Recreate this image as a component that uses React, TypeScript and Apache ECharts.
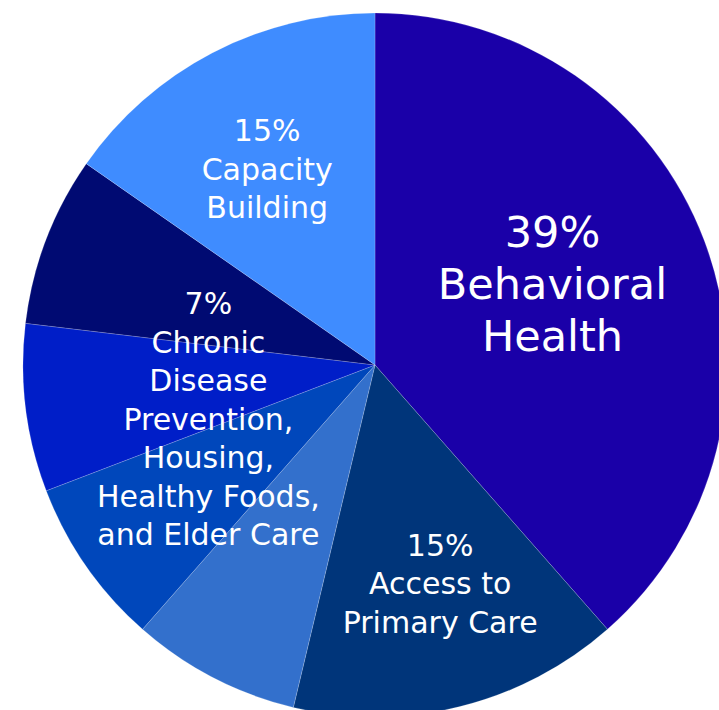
import React, { useEffect, useRef } from "react";
import * as echarts from "echarts";

const categories = [
  "Behavioral Health",
  "Access to Primary Care",
  "Elder Care",
  "Healthy Foods",
  "Housing",
  "Chronic Disease Prevention",
  "Capacity Building",
];
const values = [38.5, 15.2, 7.75, 7.7, 7.7, 7.8, 15.3];
const labelTexts = [
  "39%\nBehavioral\nHealth",
  "15%\nAccess to\nPrimary Care",
  "",
  "",
  "7%\nChronic\nDisease\nPrevention,\nHousing,\nHealthy Foods,\nand Elder Care",
  "",
  "15%\nCapacity\nBuilding",
];
const colors = ["#1a00a8", "#00357a", "#3370cc", "#0047bb", "#001ec8", "#000a72", "#3f8cff"];
const labelOffsets = [
  [10, -18],
  [22, 45],
  [0, 0],
  [0, 0],
  [11, 32],
  [0, 0],
  [-25, -37],
];

export default function App() {
  const ref = useRef<HTMLDivElement>(null);
  useEffect(() => {
    if (!ref.current) return;
    const chart = echarts.init(ref.current, null, { renderer: "svg" });
    chart.setOption({
      animation: false,
      series: [
        {
          type: "pie",
          center: [375, 365],
          radius: 352,
          startAngle: 90,
          clockwise: true,
          avoidLabelOverlap: false,
          itemStyle: { borderColor: "rgba(255,255,255,0.3)", borderWidth: 0.6 },
          labelLine: { show: false },
          emphasis: { disabled: true },
          labelLayout: (params: any) => ({
            dx: labelOffsets[params.dataIndex][0],
            dy: labelOffsets[params.dataIndex][1],
          }),
          data: categories.map((name, i) => ({
            name,
            value: values[i],
            itemStyle: { color: colors[i] },
            label: {
              show: labelTexts[i] !== "",
              position: "inside",
              formatter: labelTexts[i],
              color: "#ffffff",
              fontFamily: "DejaVu Sans",
              fontWeight: "normal",
              fontSize: i === 0 ? 43 : 30,
              lineHeight: i === 0 ? 52 : 38.5,
              align: "center",
            },
          })),
        },
      ],
    });
    return () => chart.dispose();
  }, []);
  return (
    <div
      ref={ref}
      style={{ position: "fixed", left: 0, top: 0, width: 719, height: 710, background: "#ffffff" }}
    />
  );
}
